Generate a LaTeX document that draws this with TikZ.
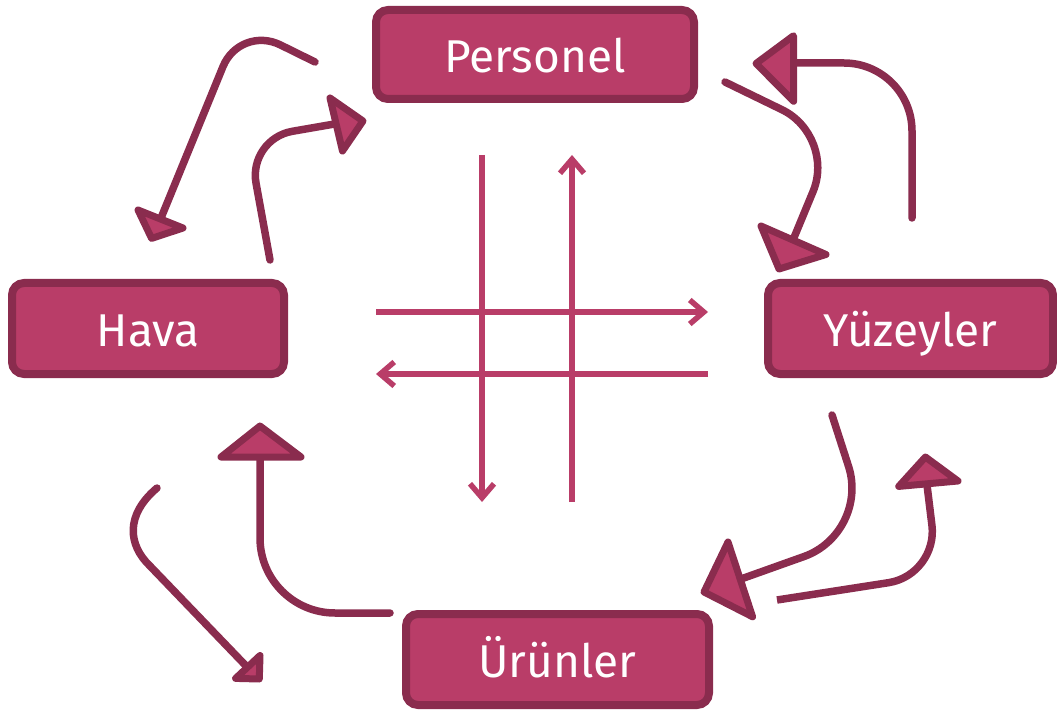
\documentclass[tikz,border=0pt]{standalone}
\usepackage{fontspec}
\setmainfont{Fira Sans}
\usetikzlibrary{arrows.meta}
\definecolor{rosefill}{HTML}{B93D68}
\definecolor{roseedge}{HTML}{8A2C4E}
\begin{document}
\begin{tikzpicture}[x=1pt,y=-1pt,
  box/.style={draw=roseedge, fill=rosefill, line width=8pt, rounded corners=12pt,
    text=white, font=\fontsize{46}{50}\selectfont, inner sep=0pt, outer sep=0pt,
    text height=36pt, text depth=0pt, minimum height=91pt},
  flow/.style={draw=roseedge, line width=7.5pt, line cap=round, line join=round},
  head/.style={draw=roseedge, fill=rosefill, line width=7pt, line join=round},
  cross/.style={draw=rosefill, line width=5.5pt, -{Straight Barb[length=14pt,width=24pt]}}]
\useasboundingbox (0,0) rectangle (1057,711);

% the four stations
\node[box, minimum width=318pt, minimum height=89pt] (personel) at (535,54.5) {Personel};
\node[box, minimum width=272pt] (hava) at (148,328.5) {Hava};
\node[box, minimum width=285pt] (yuzey) at (910.5,328.5) {Yüzeyler};
\node[box, minimum width=303pt] (urun) at (557.5,659.5) {Ürünler};

% central crossing flows
\coordinate (vlt) at (482,155); \coordinate (vlb) at (482,502);
\coordinate (vrt) at (572,155); \coordinate (vrb) at (572,502);
\coordinate (htl) at (376,312); \coordinate (htr) at (708,312);
\coordinate (hbl) at (376,374); \coordinate (hbr) at (708,374);
\draw[cross] (vlt) -- (vlb);
\draw[cross] (vrb) -- (vrt);
\draw[cross] (htl) -- (htr);
\draw[cross] (hbr) -- (hbl);

% Personel -> Hava
\coordinate (a1s) at (315,62); \coordinate (a1e) at (161,218);
\draw[flow, rounded corners=45pt] (a1s) -- (240,25) -- (a1e);
\filldraw[head] (138,210) -- (183,228) -- (151.6,238.4) -- cycle;

% Hava -> Personel
\coordinate (a2s) at (270,260); \coordinate (a2e) at (346,122);
\draw[flow, rounded corners=45pt] (a2s) -- (248,139) -- (a2e);
\filldraw[head] (330,98) -- (363,121) -- (342.5,151) -- cycle;

% Personel -> Yuzeyler
\coordinate (a3s) at (725,82); \coordinate (a3e) at (793,240);
\draw[flow, rounded corners=60pt] (a3s) -- (836,136) -- (a3e);
\filldraw[head] (761,226) -- (826,254.5) -- (779,269) -- cycle;

% Yuzeyler -> Personel
\coordinate (a4s) at (912,218); \coordinate (a4e) at (795,63);
\draw[flow, rounded corners=68pt] (a4s) -- (912,63) -- (a4e);
\filldraw[head] (793.5,35.7) -- (756,63.5) -- (793.6,101.3) -- cycle;

% Yuzeyler -> Urunler
\coordinate (a5s) at (832,415); \coordinate (a5e) at (741,579);
\draw[flow, rounded corners=70pt] (a5s) -- (870,533) -- (a5e);
\filldraw[head] (728,542) -- (704,592) -- (752.6,616.8) -- cycle;

% Urunler -> Yuzeyler
\coordinate (a6s) at (777,600); \coordinate (a6e) at (927,485);
\draw[flow, line cap=butt, rounded corners=50pt] (a6s) -- (938,575) -- (a6e);
\filldraw[head] (898.7,486.4) -- (925.4,457) -- (958,481) -- cycle;

% Urunler -> Hava
\coordinate (a7s) at (390,613); \coordinate (a7e) at (260,440);
\draw[flow, rounded corners=75pt] (a7s) -- (260,613) -- (a7e);
\filldraw[head] (221,457) -- (260,426) -- (301,457) -- cycle;

% Hava -> Urunler
\coordinate (a8s) at (157,488); \coordinate (a8e) at (250,670);
\draw[flow] (a8s) .. controls (125,515) and (128,545) .. (150,566) -- (a8e);
\filldraw[head] (235.6,678.4) -- (260,655.5) -- (259.3,679) -- cycle;
\end{tikzpicture}
\end{document}
